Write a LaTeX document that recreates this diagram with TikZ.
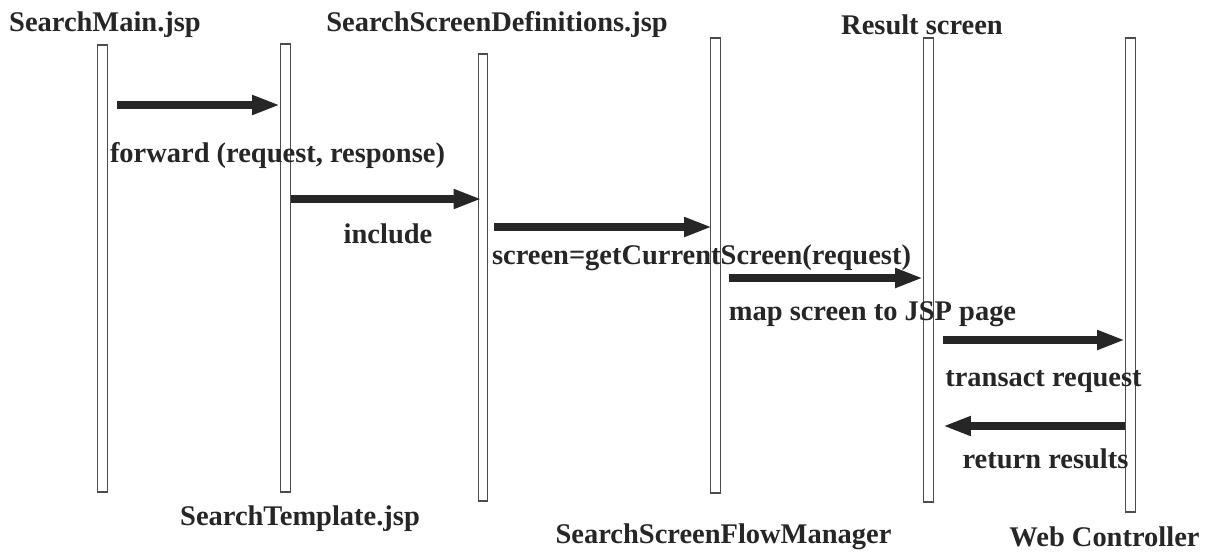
\documentclass[tikz,border=0pt]{standalone}
\usepackage{fontspec}
\setmainfont{Liberation Serif}
\usetikzlibrary{arrows.meta, calc}
\tikzset{
    lifeline/.style={
        rectangle, draw=black!70, line width=0.6pt,
        minimum width=0.19cm, inner sep=0pt, fill=white
    },
    title/.style={
        font=\fontsize{16.2}{19}\selectfont\bfseries, text=black!85, inner sep=0pt
    },
    msglabel/.style={
        font=\fontsize{16.2}{19}\selectfont\bfseries, text=black!85, inner sep=0pt
    },
    msg/.style={
        draw=black!85, line width=4.5pt,
        -{Triangle[length=0.56cm, width=0.36cm]}
    }
}

\begin{document}
\begin{tikzpicture}

\useasboundingbox (0,0) rectangle (24.28,-11.08);

% Lifelines
\node[lifeline, minimum height=8.94cm] (sm) at (2.05,-5.37) {};
\node[lifeline, minimum height=8.96cm] (st) at (5.71,-5.36) {};
\node[lifeline, minimum height=8.94cm] (sd) at (9.66,-5.55) {};
\node[lifeline, minimum height=9.10cm] (fm) at (14.31,-5.31) {};
\node[lifeline, minimum height=9.28cm] (rs) at (18.57,-5.40) {};
\node[lifeline, minimum height=9.48cm] (wc) at (22.61,-5.50) {};

% Participant names
\node[title] (smname) at (2.10,-0.50) {SearchMain.jsp};
\node[title] (sdname) at (9.94,-0.50) {SearchScreenDefinitions.jsp};
\node[title] (rsname) at (18.44,-0.50) {Result screen};
\node[title] (stname) at (6.00,-10.38) {SearchTemplate.jsp};
\node[title] (fmname) at (14.47,-10.74) {SearchScreenFlowManager};
\node[title] (wcname) at (22.09,-10.74) {Web Controller};

% Messages
\draw[msg] ($(sm.east |- 0,-2.10)+(0.18,0)$) -- (st.west |- 0,-2.10);
\draw[msg] (st.east |- 0,-3.98) -- ($(sd.west |- 0,-3.98)+(0.08,0)$);
\draw[msg] ($(sd.east |- 0,-4.54)+(0.12,0)$) -- ($(fm.west |- 0,-4.54)+(0.04,0)$);
\draw[msg] ($(fm.east |- 0,-5.56)+(0.16,0)$) -- (rs.west |- 0,-5.56);
\draw[msg] ($(rs.east |- 0,-6.80)+(0.18,0)$) -- (wc.west |- 0,-6.80);
\draw[msg] (wc.west |- 0,-8.52) -- ($(rs.east |- 0,-8.52)+(0.18,0)$);

% Message labels
\node[msglabel] (l1) at (5.55,-3.12) {forward (request, response)};
\node[msglabel] (l2) at (7.76,-4.68) {include};
\node[msglabel] (l3) at (14.03,-5.16) {screen=getCurrentScreen(request)};
\node[msglabel] (l4) at (17.45,-6.28) {map screen to JSP page};
\node[msglabel] (l5) at (20.87,-7.64) {transact request};
\node[msglabel] (l6) at (20.91,-9.18) {return results};

\end{tikzpicture}
\end{document}
